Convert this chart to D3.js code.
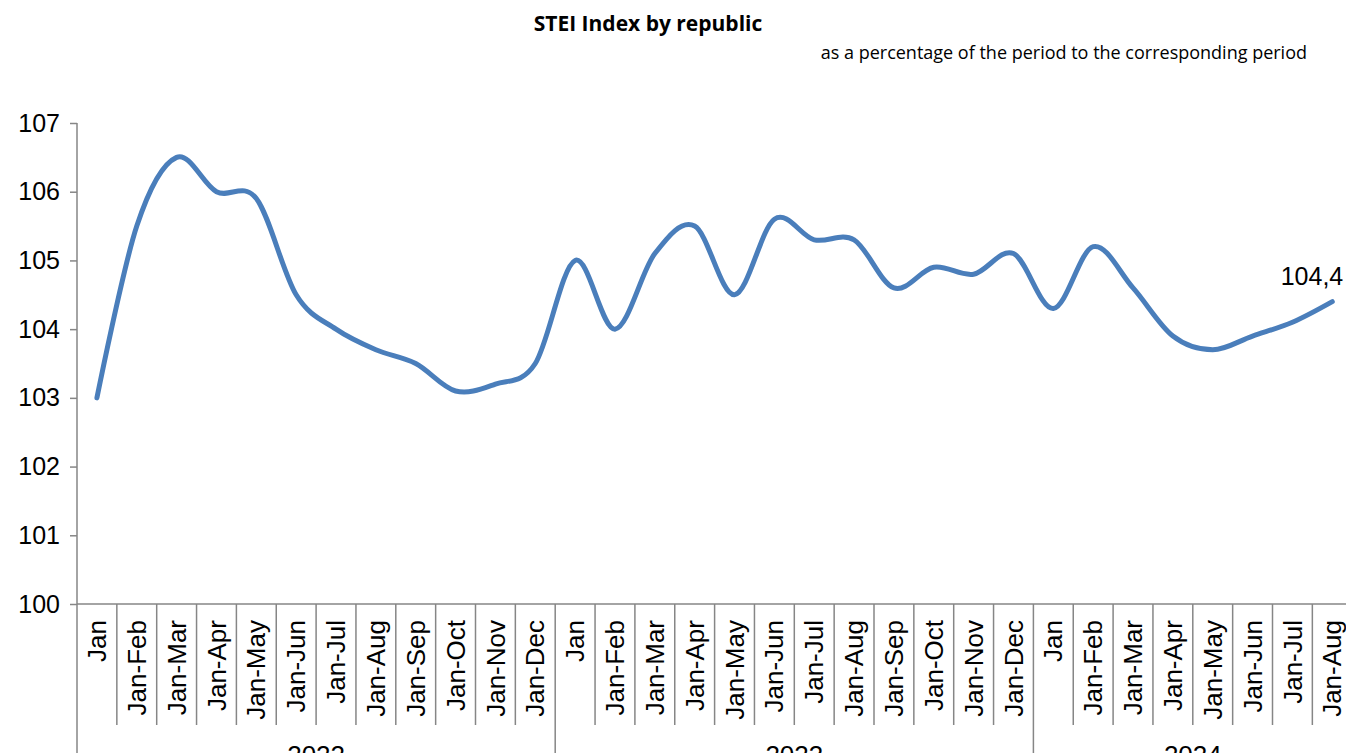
<!DOCTYPE html>
<html lang="en">
<head>
<meta charset="UTF-8">
<title>STEI Index by republic</title>
<style>
  body { margin: 0; background: #fff; }
  svg { display: block; }
  .title { font-family: "Open Sans", sans-serif; font-weight: bold; font-size: 21px; }
  .sub { font-family: "Open Sans", sans-serif; font-size: 18px; }
  .axis text { font-family: "Liberation Sans", Arial, sans-serif; font-size: 25px; fill: #000; }
  .axis.xcat text { font-size: 26px; }
  .axis path, .axis line { stroke: #868686; stroke-width: 1.5; }
  .sep { stroke: #868686; stroke-width: 1.5; }
  .yr { font-family: "Liberation Sans", Arial, sans-serif; font-size: 26px; }
  .lbl { font-family: "Liberation Sans", Arial, sans-serif; font-size: 25px; }
</style>
</head>
<body>
<div id="chart"></div>
<script src="https://cdn.jsdelivr.net/npm/d3@7"></script>
<script>
const years = ["2022", "2023", "2024"];
const periods = ["Jan", "Jan-Feb", "Jan-Mar", "Jan-Apr", "Jan-May", "Jan-Jun",
                 "Jan-Jul", "Jan-Aug", "Jan-Sep", "Jan-Oct", "Jan-Nov", "Jan-Dec"];
const values2022 = [103.0, 105.5, 106.5, 106.0, 105.9, 104.5, 104.0, 103.7, 103.5, 103.1, 103.2, 103.5];
const values2023 = [105.0, 104.0, 105.1, 105.5, 104.5, 105.6, 105.3, 105.3, 104.6, 104.9, 104.8, 105.1];
const values2024 = [104.3, 105.2, 104.6, 103.9, 103.7, 103.9, 104.1, 104.4];
const yTicks = [100, 101, 102, 103, 104, 105, 106, 107];
const lastLabel = "104,4";

const W = 1346, H = 753;
const left = 77, step = 39.85;

// flatten into one series
const series = [values2022, values2023, values2024];
const data = [];
series.forEach((vals, yi) => {
  vals.forEach((v, i) => data.push({ key: years[yi] + "|" + i, period: periods[i], year: years[yi], value: v }));
});

const svg = d3.select("#chart").append("svg")
  .attr("width", W)
  .attr("height", H);

const x = d3.scaleBand()
  .domain(data.map(d => d.key))
  .range([left, left + step * data.length])
  .paddingInner(0).paddingOuter(0);

const y = d3.scaleLinear()
  .domain([100, 107])
  .range([604, 123]);

svg.append("text")
  .attr("class", "title")
  .attr("x", 648).attr("y", 31)
  .attr("text-anchor", "middle")
  .text("STEI Index by republic");

svg.append("text")
  .attr("class", "sub")
  .attr("x", 1307).attr("y", 59)
  .attr("text-anchor", "end")
  .text("as a percentage of the period to the corresponding period");

// y axis
const yAxis = svg.append("g")
  .attr("class", "axis")
  .attr("transform", `translate(${left},0)`)
  .call(d3.axisLeft(y).tickValues(yTicks).tickSize(7).tickPadding(10).tickFormat(d3.format("d")));
yAxis.select(".domain").remove();
svg.append("line")
  .attr("class", "sep")
  .attr("x1", left).attr("x2", left)
  .attr("y1", y(107)).attr("y2", H + 10);

// x axis baseline
svg.append("line")
  .attr("class", "sep")
  .attr("x1", left).attr("x2", W + 10)
  .attr("y1", y(100)).attr("y2", y(100));

// category separators
data.forEach((d, i) => {
  if (i === 0) return;
  const bx = x(d.key);
  const isYear = d.period === "Jan";
  svg.append("line")
    .attr("class", "sep")
    .attr("x1", bx).attr("x2", bx)
    .attr("y1", y(100)).attr("y2", isYear ? H + 10 : 725);
});

// category labels
const xAxis = svg.append("g")
  .attr("class", "axis xcat")
  .attr("transform", `translate(0,${y(100)})`)
  .call(d3.axisBottom(x).tickSize(0).tickFormat(k => periods[+k.split("|")[1]]));
xAxis.select(".domain").remove();
xAxis.selectAll("text")
  .attr("transform", "rotate(-90)")
  .attr("x", -16)
  .attr("y", 0)
  .attr("dy", "0.35em")
  .attr("text-anchor", "end");

// year labels (partly below the visible area, as in the original)
years.forEach(yr => {
  const keys = data.filter(d => d.year === yr);
  const x0 = x(keys[0].key), x1 = x(keys[keys.length - 1].key) + x.bandwidth();
  svg.append("text")
    .attr("class", "yr")
    .attr("x", (x0 + x1) / 2)
    .attr("y", 764)
    .attr("text-anchor", "middle")
    .text(yr);
});

// line
const line = d3.line()
  .x(d => x(d.key) + x.bandwidth() / 2)
  .y(d => y(d.value))
  .curve(d3.curveCardinal.tension(0));

svg.append("path")
  .datum(data)
  .attr("fill", "none")
  .attr("stroke", "#4a7ebb")
  .attr("stroke-width", 5)
  .attr("stroke-linecap", "round")
  .attr("d", line);

// last value label
const last = data[data.length - 1];
svg.append("text")
  .attr("class", "lbl")
  .attr("x", x(last.key) + x.bandwidth() / 2 + 11)
  .attr("y", y(last.value) - 17)
  .attr("text-anchor", "end")
  .text(lastLabel);
</script>
</body>
</html>
